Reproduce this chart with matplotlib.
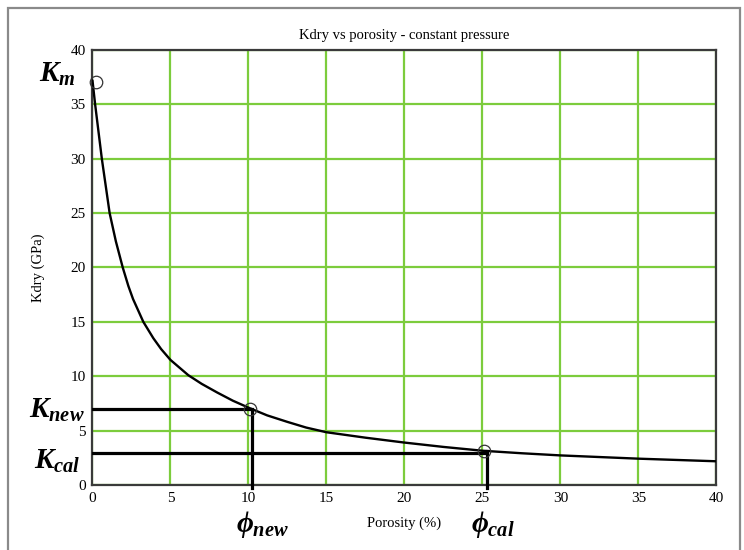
import matplotlib
matplotlib.use('Agg')

import matplotlib.pyplot as plt
from matplotlib.patches import Rectangle

# Kdry curve
porosity = [0, 0.17, 0.6, 1.1, 1.5, 1.94, 2.3, 2.6, 3.26, 3.9, 4.4, 5, 6.14, 7.0, 8.0, 9.0, 10.1,
            11.2, 12.5, 13.7, 15, 17.5, 20, 22.5, 25, 27.5, 30, 35, 40]
kdry = [37.2, 35, 30, 25, 22.4, 20, 18.3, 17.1, 15, 13.5, 12.5, 11.5, 10.1, 9.3, 8.5, 7.75, 7.05,
        6.4, 5.8, 5.28, 4.85, 4.35, 3.9, 3.5, 3.15, 2.92, 2.72, 2.42, 2.18]

# marked points
km_point = (0.2, 37.1)
new_point = (10.1, 6.95)
cal_point = (25.1, 3.1)

# guide lines
k_new = 6.96
k_cal = 2.97
phi_new = 10.2
phi_cal = 25.3

xticks = [0, 5, 10, 15, 20, 25, 30, 35, 40]
yticks = [0, 5, 10, 15, 20, 25, 30, 35, 40]

plt.rcParams['font.family'] = 'Liberation Serif'
plt.rcParams['mathtext.fontset'] = 'custom'
plt.rcParams['mathtext.it'] = 'Liberation Serif:bold:italic'
plt.rcParams['mathtext.rm'] = 'Liberation Serif:bold'

fig = plt.figure(figsize=(7.44, 5.5), dpi=100)
ax = fig.add_axes([0.1243, 0.1182, 0.8387, 0.7909])

# outer frame
fig.patches.append(Rectangle((0.011, -0.01), 0.983, 0.996, transform=fig.transFigure,
                             fill=False, edgecolor='#8a8a8a', linewidth=1.6))

ax.grid(True, color='#7ccc3c', linewidth=1.6)
ax.set_axisbelow(True)

ax.plot(porosity, kdry, color='black', linewidth=1.7, zorder=3,
        solid_joinstyle='round', solid_capstyle='round')

# guide lines to the marked points
ax.plot([0, new_point[0]], [k_new, k_new], color='black', linewidth=2.3, zorder=3)
ax.plot([0, cal_point[0]], [k_cal, k_cal], color='black', linewidth=2.3, zorder=3)
ax.plot([phi_new, phi_new], [-0.25, new_point[1]], color='black', linewidth=2.3, zorder=3, clip_on=False)
ax.plot([phi_cal, phi_cal], [-0.25, cal_point[1]], color='black', linewidth=2.3, zorder=3, clip_on=False)

for px, py in [km_point, new_point, cal_point]:
    ax.plot(px, py, 'o', markersize=9, markerfacecolor='none', markeredgecolor='#333333',
            markeredgewidth=0.9, zorder=4, clip_on=False)

ax.set_xlim(0, 40)
ax.set_ylim(0, 40)
ax.set_xticks(xticks)
ax.set_yticks(yticks)
ax.tick_params(length=0, labelsize=11, pad=5)
for s in ax.spines.values():
    s.set_color('#3a3a3a')
    s.set_linewidth(1.6)

ax.set_title('Kdry vs porosity - constant pressure', fontsize=10.5, pad=8)
ax.set_xlabel('Porosity (%)', fontsize=10.5, labelpad=8)
ax.set_ylabel('Kdry (GPa)', fontsize=10.5, labelpad=18)

# annotation labels
fig.text(57 / 744, 1 - 74 / 550, r'$K_m$', fontsize=21, ha='center', va='center')
fig.text(57 / 744, 1 - 410 / 550, r'$K_{new}$', fontsize=21, ha='center', va='center')
fig.text(57 / 744, 1 - 461 / 550, r'$K_{cal}$', fontsize=21, ha='center', va='center')
fig.text(262 / 744, 1 - 525 / 550, r'$\phi_{new}$', fontsize=21, ha='center', va='center')
fig.text(493 / 744, 1 - 525 / 550, r'$\phi_{cal}$', fontsize=21, ha='center', va='center')

fig.savefig('out.png', dpi=100)
